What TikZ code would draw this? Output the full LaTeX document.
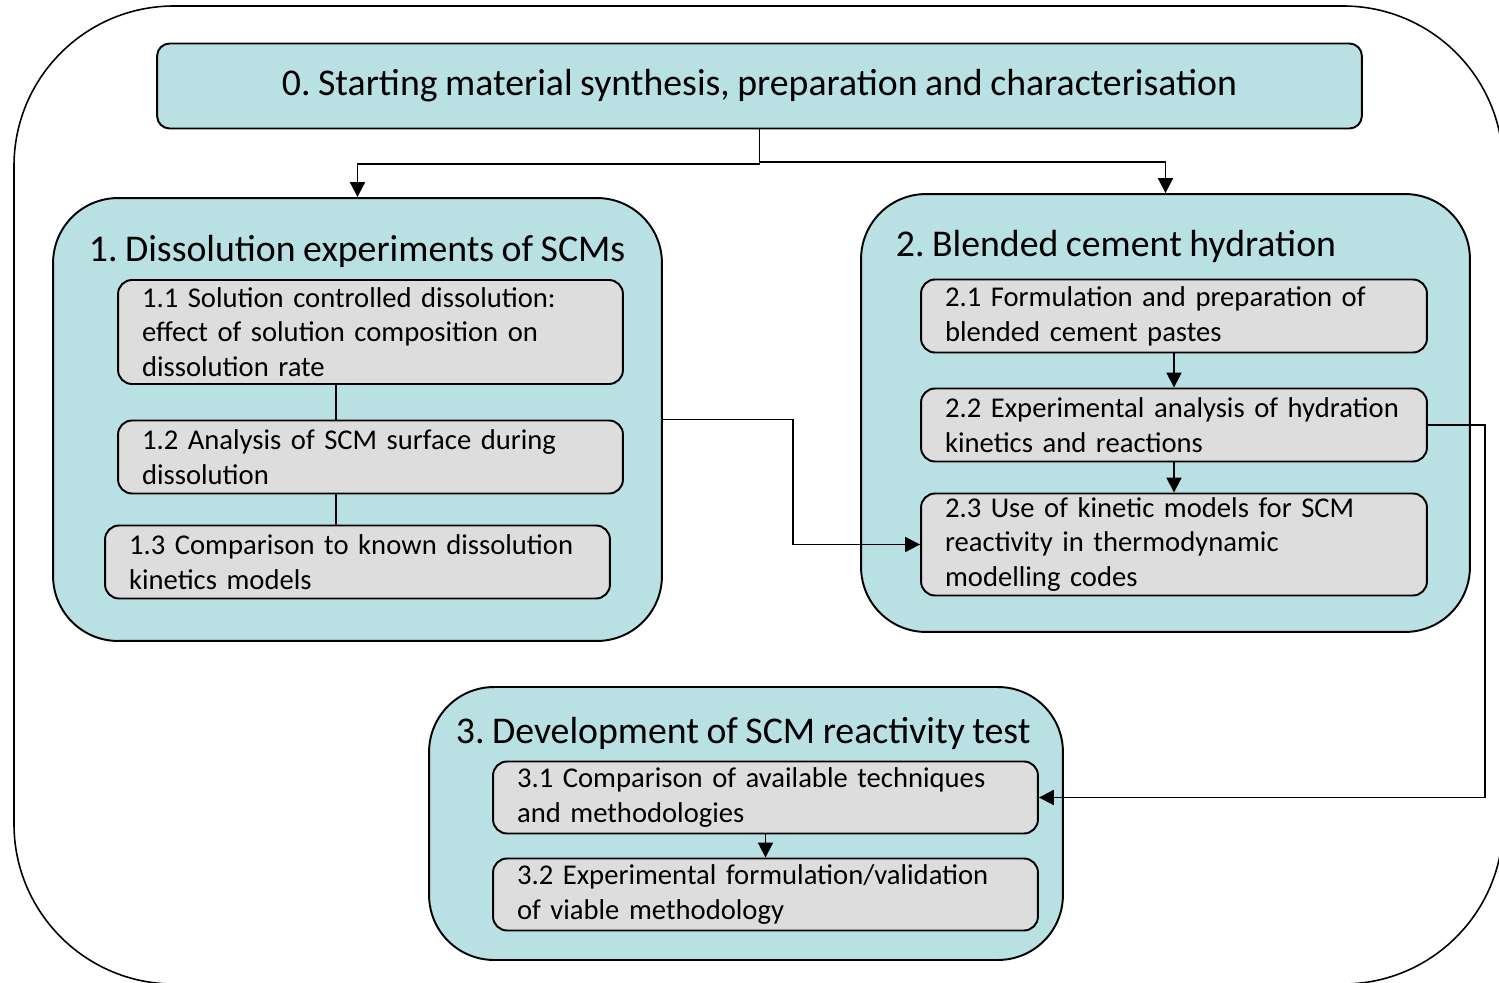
\documentclass[tikz,border=0pt]{standalone}
\usepackage{fontspec}
\setmainfont{Carlito}[WordSpace = 0.88]
\usetikzlibrary{arrows.meta}
\definecolor{stagecol}{HTML}{B9E0E3}
\definecolor{taskcol}{HTML}{DDDDDD}
\newcommand\taskfont{\fontsize{16.3}{19.8}\selectfont\hyphenpenalty=10000\relax}
\frenchspacing

\begin{document}
\begin{tikzpicture}
      [x = 0.02cm, y = -0.02cm,
        every path/.style = {line width = 1.1pt},
        stage/.style = {draw, fill = stagecol, rounded corners = 1.3cm, inner sep = 0},
        head/.style = {draw, fill = stagecol, rounded corners = 0.25cm,
          minimum width = 24.1cm, minimum height = 1.7cm, font = \fontsize{21.5}{25}\selectfont},
        title/.style = {anchor = west, inner sep = 0, font = \fontsize{21.5}{25}\selectfont},
        task/.style = {draw, fill = taskcol, rounded corners = 0.28cm, align = left,
          inner xsep = 0.48cm, inner ysep = 0, font = \taskfont},
        arr/.style = {-{Triangle[length = 8.5pt, width = 8.5pt]}}]
      \useasboundingbox (0,0) rectangle (1499,983);
      \draw[line width = 0.9pt, rounded corners = 3.2cm] (14,6) rectangle (1503,984);

      \node[head] (n0) at (759.5,86) {0. Starting material synthesis, preparation and characterisation};

      \node[stage, minimum width = 12.18cm, minimum height = 8.86cm] (s1) at (357.5,419.5) {};
      \node[stage, minimum width = 12.18cm, minimum height = 8.76cm] (s2) at (1165.5,413) {};
      \node[stage, minimum width = 12.68cm, minimum height = 5.46cm] (s3) at (746,823.5) {};

      \node[title] (h1) at (88,251) {1. Dissolution experiments of SCMs};
      \node[title] (h2) at (895,246) {2. Blended cement hydration};
      \node[title] (h3) at (455,733) {3. Development of SCM reactivity test};

      \node[task, text width = 9.14cm, minimum height = 2.08cm] (t11) at (370.5,332)
        {1.1 Solution controlled dissolution:\\ effect of solution composition on\\ dissolution rate};
      \node[task, text width = 9.14cm, minimum height = 1.46cm] (t12) at (370.5,457)
        {1.2 Analysis of SCM surface during\\ dissolution};
      \node[task, text width = 9.14cm, minimum height = 1.46cm] (t13) at (357.5,562)
        {1.3 Comparison to known dissolution\\ kinetics models};

      \node[task, text width = 9.16cm, minimum height = 1.46cm] (t21) at (1174,316)
        {2.1 Formulation and preparation of\\ blended cement pastes};
      \node[task, text width = 9.16cm, minimum height = 1.46cm] (t22) at (1174,425)
        {2.2 Experimental analysis of hydration\\ kinetics and reactions};
      \node[task, text width = 9.16cm, minimum height = 2.04cm] (t23) at (1174,544.5)
        {2.3 Use of kinetic models for SCM\\ reactivity in thermodynamic\\ modelling codes};

      \node[task, text width = 9.94cm, minimum height = 1.44cm] (t31) at (765.5,797.5)
        {3.1 Comparison of available techniques\\ and methodologies};
      \node[task, text width = 9.94cm, minimum height = 1.44cm] (t32) at (765.5,894.5)
        {3.2 Experimental formulation/validation\\ of viable methodology};

      \draw[arr] (n0.south) -- ++(0,35) -| (s1.north);
      \draw[arr] (n0.south) -- ++(0,33) -| (s2.north);
      \draw ([xshift = -0.69cm]t11.south) -- ([xshift = -0.69cm]t12.north);
      \draw ([xshift = -0.69cm]t12.south) -- ([xshift = -0.43cm]t13.north);
      \draw[arr] (t21) -- (t22);
      \draw[arr] (t22) -- (t23);
      \draw[arr] (t31) -- (t32);
      \draw[arr] (s1.east) -- ++(130,0) |- (t23.west);
      \draw[arr] (t22.east) -- ++(57,0) |- (t31.east);
    \end{tikzpicture}
\end{document}
